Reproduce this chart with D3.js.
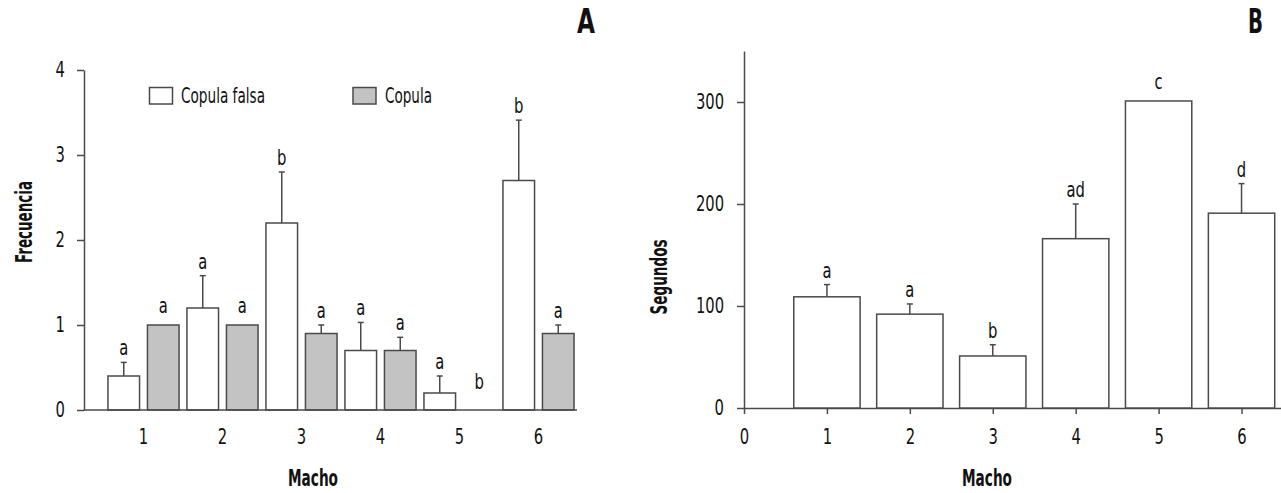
<!DOCTYPE html>
<html><head><meta charset="utf-8">
<script src="https://cdn.jsdelivr.net/npm/d3@7"></script>
<style>
body{margin:0;background:#fff}
svg text{font-family:"Liberation Sans Narrow","DejaVu Sans Condensed","Arial Narrow",sans-serif;fill:#111}
</style></head><body><svg id="c" width="1281" height="493"></svg>
<script>
// ---- data ----
const machos = ["1","2","3","4","5","6"];
const seriesNames = ["Copula falsa","Copula"];
const falsaMean = [0.4, 1.2, 2.2, 0.7, 0.2, 2.7];
const falsaSE   = [0.16, 0.38, 0.6, 0.33, 0.2, 0.71];
const falsaLetters = ["a","a","b","a","a","b"];
const copulaMean = [1.0, 1.0, 0.9, 0.7, 0, 0.9];
const copulaSE   = [0, 0, 0.1, 0.155, 0, 0.1];
const copulaLetters = ["a","a","a","a","b","a"];
const freqTicks = [0,1,2,3,4];

const durMean = [109, 92, 51, 166, 301, 191];
const durSE   = [12, 10, 11, 34, 0, 29];
const durLetters = ["a","a","b","ad","c","d"];
const durTicks = [0,100,200,300];
const machoTicksB = [0,1,2,3,4,5,6];

// ---- drawing ----
const svg = d3.select("#c");
const ink = "#4a4a4a";
const greyFill = "#c3c3c3";

function styleAxis(g){
  g.selectAll("path.domain").attr("stroke", ink).attr("stroke-width", 1.5);
  g.selectAll(".tick line").attr("stroke", ink).attr("stroke-width", 1.5);
  g.selectAll(".tick text").style("font-size","21px").attr("fill","#111").classed("narrow", true);
}
function letterOffset(v, se){ return v === 0 ? 21 : (se > 0 ? 7 : 12); }

// Panel A
const yA = d3.scaleLinear().domain([0,4]).range([410,70]);
const x0 = d3.scaleBand().domain(machos).range([104,578]);
const x1 = d3.scaleBand().domain(seriesNames).range([0, x0.bandwidth()]).paddingInner(0.2).paddingOuter(0.1);
const axLeftA = 84, axRightA = 577;

const gA = svg.append("g");
const yAxA = gA.append("g").attr("transform",`translate(${axLeftA},0)`)
  .call(d3.axisLeft(yA).tickValues(freqTicks).tickFormat(d3.format("d")).tickSize(7).tickPadding(12).tickSizeOuter(0));
styleAxis(yAxA);
const xAxA = gA.append("g").attr("transform",`translate(0,${yA(0)})`)
  .call(d3.axisBottom(x0).tickSize(0).tickPadding(19));
xAxA.select("path.domain").remove();
styleAxis(xAxA);

const dataA = [];
machos.forEach((m,i)=>{
  dataA.push({m, s:seriesNames[0], v:falsaMean[i], se:falsaSE[i], l:falsaLetters[i], fill:"#fff"});
  dataA.push({m, s:seriesNames[1], v:copulaMean[i], se:copulaSE[i], l:copulaLetters[i], fill:greyFill});
});
const bw = x1.bandwidth();
dataA.forEach(d=>{
  const x = x0(d.m) + x1(d.s), cx = x + bw/2;
  if (d.v > 0) {
    gA.append("rect").attr("x", x).attr("y", yA(d.v)).attr("width", bw).attr("height", yA(0)-yA(d.v))
      .attr("fill", d.fill).attr("stroke", ink).attr("stroke-width", 1.5);
  }
  if (d.se > 0) {
    gA.append("line").attr("x1",cx).attr("x2",cx).attr("y1",yA(d.v)).attr("y2",yA(d.v+d.se)).attr("stroke",ink).attr("stroke-width",1.5);
    gA.append("line").attr("x1",cx-3).attr("x2",cx+3).attr("y1",yA(d.v+d.se)).attr("y2",yA(d.v+d.se)).attr("stroke",ink).attr("stroke-width",1.5);
  }
  gA.append("text").attr("class","narrow").attr("x",cx).attr("y",yA(d.v+d.se)-letterOffset(d.v,d.se))
    .attr("text-anchor","middle").style("font-size","21px").text(d.l);
});
gA.append("line").attr("x1",axLeftA).attr("x2",axRightA).attr("y1",yA(0)).attr("y2",yA(0)).attr("stroke",ink).attr("stroke-width",1.5);

// legend A
const legA = [{name:seriesNames[0], fill:"#fff", bx:149.5, tx:181, tl:84},{name:seriesNames[1], fill:greyFill, bx:353, tx:385, tl:47}];
legA.forEach(l=>{
  gA.append("rect").attr("x",l.bx).attr("y",87.5).attr("width",23).attr("height",16.5).attr("fill",l.fill).attr("stroke",ink).attr("stroke-width",1.5);
  gA.append("text").attr("x",l.tx).attr("y",103).style("font-size","22px")
    .attr("textLength",l.tl).attr("lengthAdjust","spacingAndGlyphs").text(l.name);
});

// titles A
gA.append("text").attr("transform","translate(32,222) rotate(-90)").attr("text-anchor","middle")
  .style("font-size","23px").style("font-weight","bold").attr("textLength",82).attr("lengthAdjust","spacingAndGlyphs").text("Frecuencia");
gA.append("text").attr("x",313).attr("y",486).attr("text-anchor","middle")
  .style("font-size","23px").style("font-weight","bold").attr("textLength",50).attr("lengthAdjust","spacingAndGlyphs").text("Macho");
gA.append("text").attr("x",577).attr("y",33)
  .style("font-size","34px").style("font-weight","bold").attr("textLength",18).attr("lengthAdjust","spacingAndGlyphs").text("A");

// Panel B
const xB = d3.scaleLinear().domain([0,6.5]).range([744,1283]);
const yB = d3.scaleLinear().domain([0,350]).range([408,51]);
const gB = svg.append("g");
const yAxB = gB.append("g").attr("transform",`translate(${xB(0)},0)`)
  .call(d3.axisLeft(yB).tickValues(durTicks).tickSize(7).tickPadding(13).tickSizeOuter(0));
styleAxis(yAxB);
const xAxB = gB.append("g").attr("transform",`translate(0,${yB(0)})`)
  .call(d3.axisBottom(xB).tickValues(machoTicksB).tickFormat(d3.format("d")).tickSize(6).tickPadding(15).tickSizeOuter(0));
styleAxis(xAxB);

const bwB = xB(0.8) - xB(0);
durMean.forEach((v,i)=>{
  const c = +machos[i], cx = xB(c), se = durSE[i];
  gB.append("rect").attr("x", xB(c-0.4)).attr("y", yB(v)).attr("width", bwB).attr("height", yB(0)-yB(v))
    .attr("fill","#fff").attr("stroke",ink).attr("stroke-width",1.5);
  if (se > 0) {
    gB.append("line").attr("x1",cx).attr("x2",cx).attr("y1",yB(v)).attr("y2",yB(v+se)).attr("stroke",ink).attr("stroke-width",1.5);
    gB.append("line").attr("x1",cx-3).attr("x2",cx+3).attr("y1",yB(v+se)).attr("y2",yB(v+se)).attr("stroke",ink).attr("stroke-width",1.5);
  }
  gB.append("text").attr("class","narrow").attr("x",cx).attr("y",yB(v+se)-letterOffset(v,se))
    .attr("text-anchor","middle").style("font-size","21px").text(durLetters[i]);
});

gB.append("text").attr("transform","translate(667,277) rotate(-90)").attr("text-anchor","middle")
  .style("font-size","23px").style("font-weight","bold").attr("textLength",75).attr("lengthAdjust","spacingAndGlyphs").text("Segundos");
gB.append("text").attr("x",987).attr("y",486).attr("text-anchor","middle")
  .style("font-size","23px").style("font-weight","bold").attr("textLength",50).attr("lengthAdjust","spacingAndGlyphs").text("Macho");
gB.append("text").attr("x",1248).attr("y",33)
  .style("font-size","34px").style("font-weight","bold").attr("textLength",15).attr("lengthAdjust","spacingAndGlyphs").text("B");

// compress condensed-looking labels to match the narrow face
svg.selectAll("text.narrow").each(function(){
  const w = this.getComputedTextLength();
  d3.select(this).attr("textLength", (w*0.78).toFixed(1)).attr("lengthAdjust","spacingAndGlyphs");
});
</script></body></html>
